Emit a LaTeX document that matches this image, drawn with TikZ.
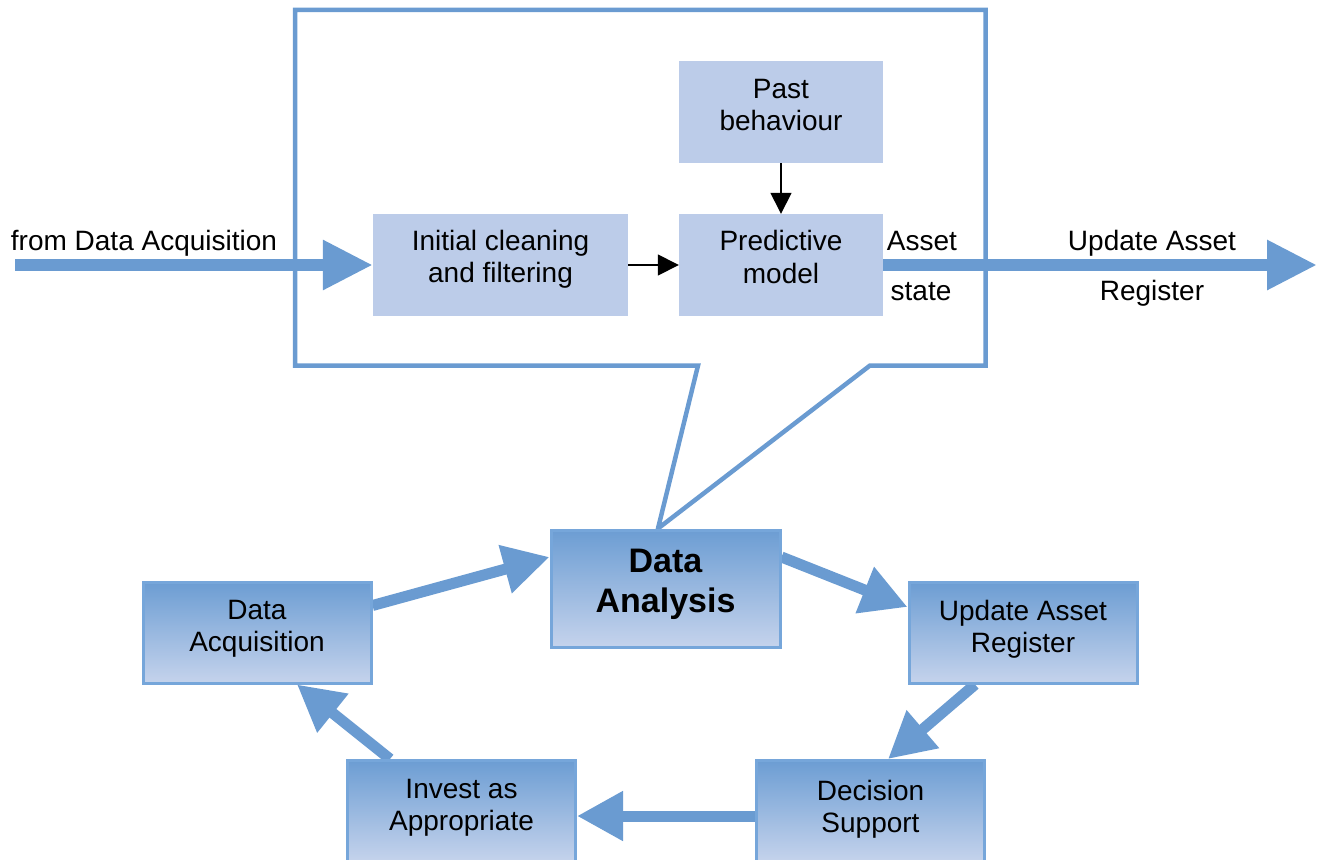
\documentclass[tikz,border=0pt]{standalone}
\usepackage{fontspec}
\setmainfont{Liberation Sans}
\usetikzlibrary{arrows.meta,backgrounds}
\definecolor{flowblue}{RGB}{106,155,209}
\definecolor{paleblue}{RGB}{188,204,233}
\definecolor{shadetop}{RGB}{108,157,211}
\definecolor{shadebot}{RGB}{197,211,236}
\definecolor{edgeblue}{RGB}{118,166,218}

\begin{document}
\begin{tikzpicture}[x=1pt,y=-1pt,
  panel/.style={fill=paleblue, inner sep=0pt, minimum height=102pt},
  stage/.style={top color=shadetop, bottom color=shadebot, draw=edgeblue,
    line width=3pt, inner sep=0pt, minimum width=228pt, minimum height=101pt},
  caption/.style={font=\fontsize{28pt}{32.5pt}\selectfont, align=center, inner sep=0pt},
  heading/.style={font=\fontsize{34pt}{40pt}\selectfont\bfseries, align=center, inner sep=0pt},
  bigflow/.style={draw=flowblue, line width=12pt, -{Triangle[length=50pt,width=47pt]}},
  loopflow/.style={draw=flowblue, line width=11pt, -{Triangle[length=46pt,width=47pt]}},
  thinflow/.style={draw=black, line width=1.5pt, -{Triangle[length=21pt,width=21pt]}},
  callout/.style={draw=flowblue, line width=4.5pt, line join=miter}
]
\useasboundingbox (0,0) rectangle (1319,859);

% analysis detail panels
\node[panel, minimum width=204pt] (pb) at (781,112) {};
\node[panel, minimum width=255pt] (ic) at (500.5,265) {};
\node[panel, minimum width=204pt] (pm) at (781,265) {};

% asset management cycle
\node[stage, minimum width=229pt, minimum height=117pt] (ana) at (665.5,588.5) {};
\node[stage] (acq) at (257,632.5) {};
\node[stage] (uar) at (1023,632.5) {};
\node[stage] (dec) at (870.5,811) {};
\node[stage] (inv) at (461.5,811) {};

% box texts
\node[caption] (pb-t) at ([yshift=7pt]pb.center) {Past\\behaviour};
\node[caption] (ic-t) at ([yshift=5.5pt]ic.center) {Initial cleaning\\and filtering};
\node[caption] (pm-t) at ([yshift=8pt]pm.center) {Predictive\\model};
\node[heading] (ana-t) at ([yshift=4pt]ana.center) {Data\\Analysis};
\node[caption] (acq-t) at ([yshift=3.5pt]acq.center) {Data\\Acquisition};
\node[caption] (uar-t) at ([yshift=3pt]uar.center) {Update Asset\\Register};
\node[caption] (dec-t) at ([yshift=2pt]dec.center) {Decision\\Support};
\node[caption] (inv-t) at ([yshift=3pt]inv.center) {Invest as\\Appropriate};

% flow labels
\node[caption, anchor=base] (in-l) at (144,250) {from Data Acquisition};
\node[caption, anchor=base] (as-l1) at (922,250) {Asset};
\node[caption, anchor=base] (as-l2) at (921,300) {state};
\node[caption, anchor=base] (out-l1) at (1152,250) {Update Asset};
\node[caption, anchor=base] (out-l2) at (1152,300) {Register};

\coordinate (src) at (15,265);
\coordinate (dst) at (1317,265);

\begin{scope}[on background layer]
  % callout frame around the analysis detail
  \draw[callout] (295,10) -- (985.5,10) -- (985.5,365.5) -- (870,365.5)
    -- ([xshift=-7.5pt]ana.north) -- (698,365.5) -- (295,365.5) -- cycle;
  \draw[bigflow] (src) -- (ic.west);
  \draw[bigflow] (pm.east) -- (dst);
  \draw[thinflow] (pb.south) -- (pm.north);
  \draw[thinflow] (ic.east) -- (pm.west);
  \draw[loopflow] ([yshift=27pt]acq.east) -- ([yshift=31.5pt]ana.west);
  \draw[loopflow] ([yshift=31.5pt]ana.east) -- ([yshift=25.5pt]uar.west);
  \draw[loopflow] ([xshift=-48pt]uar.south) -- ([xshift=17.5pt]dec.north);
  \draw[loopflow] ([yshift=-5pt]dec.west) -- ([yshift=-5pt]inv.east);
  \draw[loopflow] ([xshift=-71.5pt]inv.north) -- ([xshift=40pt]acq.south);
\end{scope}
\end{tikzpicture}
\end{document}
